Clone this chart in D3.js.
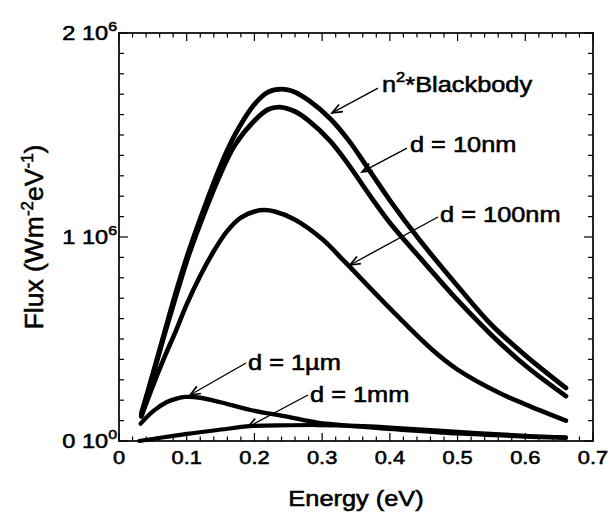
<!DOCTYPE html>
<html>
<head>
<meta charset="utf-8">
<script src="https://cdn.jsdelivr.net/npm/d3@7"></script>
<style>
  html, body { margin: 0; padding: 0; background: #fff; }
  svg text { font-family: "Liberation Sans", Arial, Helvetica, sans-serif; fill: #000; stroke: #000; stroke-width: 0.55; }
</style>
</head>
<body>
<svg id="chart" width="613" height="513"></svg>
<script>
// ---------------- DATA ----------------
const xTickValues = [0, 0.1, 0.2, 0.3, 0.4, 0.5, 0.6, 0.7];
const xTickLabels = ["0", "0.1", "0.2", "0.3", "0.4", "0.5", "0.6", "0.7"];
const yTickValues = [0, 1e6, 2e6];
const yTickMantissa = ["0", "1", "2"];
const yTickExponent = ["0", "6", "6"];

// Energy (eV) / Flux (W m^-2 eV^-1)
const blackbodyE = [0.033, 0.05, 0.067, 0.085, 0.104, 0.13, 0.15, 0.171, 0.2, 0.22, 0.24, 0.26, 0.28, 0.312, 0.34, 0.367, 0.4, 0.444, 0.5, 0.55, 0.6, 0.66];
const blackbodyF = [0.135e6, 0.33e6, 0.53e6, 0.74e6, 0.94e6, 1.18e6, 1.35e6, 1.50e6, 1.65e6, 1.71e6, 1.725e6, 1.71e6, 1.67e6, 1.58e6, 1.47e6, 1.34e6, 1.18e6, 0.985e6, 0.76e6, 0.57e6, 0.42e6, 0.26e6];

const d10nmE = [0.033, 0.05, 0.067, 0.085, 0.104, 0.13, 0.15, 0.171, 0.2, 0.22, 0.237, 0.26, 0.28, 0.312, 0.34, 0.367, 0.4, 0.444, 0.5, 0.55, 0.6, 0.66];
const d10nmF = [0.125e6, 0.32e6, 0.52e6, 0.72e6, 0.92e6, 1.15e6, 1.31e6, 1.45e6, 1.57e6, 1.625e6, 1.637e6, 1.615e6, 1.57e6, 1.47e6, 1.35e6, 1.22e6, 1.07e6, 0.90e6, 0.69e6, 0.52e6, 0.37e6, 0.22e6];

const d100nmE = [0.033, 0.05, 0.067, 0.084, 0.1, 0.12, 0.141, 0.16, 0.18, 0.2, 0.215, 0.23, 0.26, 0.3, 0.333, 0.4, 0.463, 0.5, 0.562, 0.6, 0.66];
const d100nmF = [0.12e6, 0.27e6, 0.41e6, 0.54e6, 0.67e6, 0.81e6, 0.936e6, 1.03e6, 1.095e6, 1.125e6, 1.132e6, 1.125e6, 1.085e6, 0.99e6, 0.88e6, 0.65e6, 0.446e6, 0.35e6, 0.235e6, 0.18e6, 0.10e6];

const d1umE = [0.032, 0.05, 0.07, 0.085, 0.098, 0.12, 0.15, 0.194, 0.25, 0.293, 0.35, 0.414, 0.5, 0.6, 0.66];
const d1umF = [0.085e6, 0.145e6, 0.19e6, 0.208e6, 0.216e6, 0.212e6, 0.19e6, 0.152e6, 0.118e6, 0.090e6, 0.072e6, 0.056e6, 0.037e6, 0.022e6, 0.015e6];

const d1mmE = [0.03, 0.05, 0.1, 0.15, 0.194, 0.25, 0.293, 0.35, 0.4, 0.5, 0.6, 0.66];
const d1mmF = [0.0, 0.01e6, 0.035e6, 0.056e6, 0.073e6, 0.077e6, 0.078e6, 0.074e6, 0.066e6, 0.045e6, 0.026e6, 0.018e6];

const seriesNames = ["n2*Blackbody", "d = 10nm", "d = 100nm", "d = 1µm", "d = 1mm"];

// annotation anchors in data coordinates: [label x, label y, arrow start x, start y, tip x, tip y]
const annoText = [["n", "2", "*Blackbody"], ["d = 10nm"], ["d = 100nm"], ["d = 1µm"], ["d = 1mm"]];
const annoAnchors = [
  [0.3884, 1.711e6, 0.3825, 1.730e6, 0.3146, 1.608e6],
  [0.4297, 1.417e6, 0.4253, 1.436e6, 0.3589, 1.319e6],
  [0.4741, 1.0735e6, 0.4711, 1.098e6, 0.3411, 0.8627e6],
  [0.1905, 0.348e6, 0.1876, 0.3824e6, 0.1049, 0.2255e6],
  [0.2821, 0.1912e6, 0.2791, 0.2255e6, 0.1905, 0.0686e6]
];

// ---------------- LAYOUT ----------------
const svg = d3.select("#chart");
const mLeft = 119, mRight = 593, mTop = 33, mBottom = 441;
const SX = 1.18; // horizontal stretch of glyphs in reference

const x = d3.scaleLinear().domain([0, 0.7]).range([mLeft, mRight]);
const y = d3.scaleLinear().domain([0, 2e6]).range([mBottom, mTop]);

// frame
svg.append("rect")
  .attr("x", mLeft).attr("y", mTop)
  .attr("width", mRight - mLeft).attr("height", mBottom - mTop)
  .attr("fill", "none").attr("stroke", "#000").attr("stroke-width", 1.7);

// ticks
const xMinor = d3.range(0, 0.7001, 0.02);
const yMinor = d3.range(0, 2e6 + 1, 1e5);
const isMajorX = v => Math.abs(v * 10 - Math.round(v * 10)) < 1e-6;
const isMajorY = v => Math.abs(v / 1e6 - Math.round(v / 1e6)) < 1e-6;
const tg = svg.append("g").attr("stroke", "#000").attr("stroke-width", 1.2);
xMinor.forEach(v => {
  const L = isMajorX(v) ? 8 : 4.5;
  tg.append("line").attr("x1", x(v)).attr("x2", x(v)).attr("y1", mBottom).attr("y2", mBottom - L);
  tg.append("line").attr("x1", x(v)).attr("x2", x(v)).attr("y1", mTop).attr("y2", mTop + L);
});
yMinor.forEach(v => {
  const L = isMajorY(v) ? 9 : 5;
  tg.append("line").attr("y1", y(v)).attr("y2", y(v)).attr("x1", mLeft).attr("x2", mLeft + L);
  tg.append("line").attr("y1", y(v)).attr("y2", y(v)).attr("x1", mRight).attr("x2", mRight - L);
});

// x tick labels
xTickValues.forEach((v, i) => {
  svg.append("text")
    .attr("transform", `translate(${x(v)},464) scale(${SX},1)`)
    .attr("text-anchor", "middle")
    .attr("font-size", 18.5)
    .text(xTickLabels[i]);
});

// y tick labels
yTickValues.forEach((v, i) => {
  const t = svg.append("text")
    .attr("transform", `translate(117,${y(v) + 7}) scale(${SX},1)`)
    .attr("text-anchor", "end")
    .attr("font-size", 20);
  t.append("tspan").text(yTickMantissa[i] + " 10");
  t.append("tspan").attr("font-size", 13.5).attr("dy", -9).text(yTickExponent[i]);
});

// axis titles
svg.append("text")
  .attr("transform", `translate(${(mLeft + mRight) / 2},506) scale(${SX},1)`)
  .attr("text-anchor", "middle")
  .attr("font-size", 21.5)
  .text("Energy (eV)");

const yl = svg.append("text")
  .attr("transform", "translate(43,237) rotate(-90)")
  .attr("text-anchor", "middle")
  .attr("font-size", 26.5);
yl.append("tspan").text("Flux (Wm");
yl.append("tspan").attr("font-size", 17).attr("dy", -10).text("-2");
yl.append("tspan").attr("dy", 10).text("eV");
yl.append("tspan").attr("font-size", 17).attr("dy", -10).text("-1");
yl.append("tspan").attr("dy", 10).text(")");

// curves
const line = d3.line().x(d => x(d[0])).y(d => y(d[1])).curve(d3.curveCatmullRom.alpha(0.5));
const allSeries = [
  d3.zip(blackbodyE, blackbodyF),
  d3.zip(d10nmE, d10nmF),
  d3.zip(d100nmE, d100nmF),
  d3.zip(d1umE, d1umF),
  d3.zip(d1mmE, d1mmF)
];
const widths = [4.8, 4.8, 4.6, 4.3, 4.1];
allSeries.forEach((s, i) => {
  svg.append("path")
    .datum(s)
    .attr("d", line)
    .attr("fill", "none")
    .attr("stroke", "#000")
    .attr("stroke-width", widths[i])
    .attr("stroke-linecap", "round")
    .attr("stroke-linejoin", "round");
});

// annotations
annoAnchors.forEach((a, i) => {
  const tx = x(a[0]), ty = y(a[1]);
  const sx = x(a[2]), sy = y(a[3]);
  const ex = x(a[4]), ey = y(a[5]);
  svg.append("line").attr("x1", sx).attr("y1", sy).attr("x2", ex).attr("y2", ey)
    .attr("stroke", "#000").attr("stroke-width", 1.4);
  const ang = Math.atan2(sy - ey, sx - ex);
  const hl = 11, ha = 0.38;
  const p1 = [ex + hl * Math.cos(ang + ha), ey + hl * Math.sin(ang + ha)];
  const p2 = [ex + hl * Math.cos(ang - ha), ey + hl * Math.sin(ang - ha)];
  svg.append("path")
    .attr("d", `M${p1[0]},${p1[1]} L${ex},${ey} L${p2[0]},${p2[1]}`)
    .attr("fill", "none").attr("stroke", "#000").attr("stroke-width", 1.7)
    .attr("stroke-linejoin", "miter");
  const t = svg.append("text")
    .attr("transform", `translate(${tx},${ty}) scale(${SX},1)`)
    .attr("font-size", 21.5);
  const parts = annoText[i];
  if (parts.length === 3) {
    t.append("tspan").text(parts[0]);
    t.append("tspan").attr("font-size", 14).attr("dy", -10).text(parts[1]);
    t.append("tspan").attr("dy", 10).text(parts[2]);
  } else {
    t.text(parts[0]);
  }
});
</script>
</body>
</html>
